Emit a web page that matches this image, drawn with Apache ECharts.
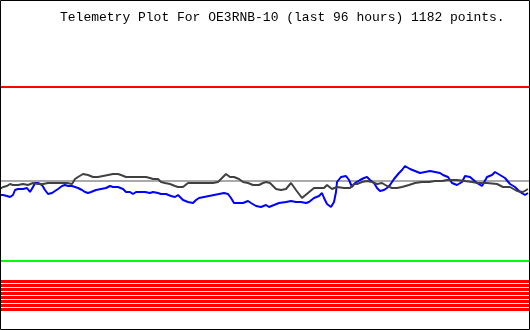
<!DOCTYPE html>
<html>
<head>
<meta charset="utf-8">
<script src="https://cdn.jsdelivr.net/npm/echarts@6/dist/echarts.min.js"></script>
<style>
html,body{margin:0;padding:0;background:#fff;}
#c{width:530px;height:330px;}
</style>
</head>
<body>
<div id="c"></div>
<script>
// Sample columns (time axis) and levels (level scale grows downward).
var titleText = "Telemetry Plot For OE3RNB-10 (last 96 hours) 1182 points.";

var darkT = [0,3,7,10,13,18,23,28,33,38,43,48,53,58,62,67,72,75,78,83,88,93,98,103,108,113,118,121,126,131,136,141,146,150,153,158,161,165,170,175,178,183,188,194,198,203,208,213,218,223,226,230,234,239,243,248,253,259,263,266,270,276,281,286,291,296,302,308,314,319,324,327,332,337,344,350,354,357,362,367,372,377,382,387,392,397,402,409,415,422,429,435,442,447,457,465,472,478,487,497,503,510,517,523,528];
var darkV = [189,187,186,184,185,185,184,185,183,184,184,183,183,183,183,183,184,179,177,174,175,177,177,176,175,174,174,175,177,177,177,177,177,178,179,179,182,183,184,186,187,187,183,183,183,183,183,183,182,177,174,177,177,179,182,183,185,185,183,182,183,189,190,189,183,190,198,193,188,188,188,185,189,187,188,188,184,184,182,181,182,184,183,186,188,188,187,185,183,182,182,181,181,180,180,181,182,183,183,184,187,187,191,192,189];

var blueT = [0,3,7,10,13,15,18,23,27,30,33,35,38,42,45,48,52,55,58,62,65,68,72,75,78,82,85,88,91,96,101,106,110,113,118,120,123,126,130,133,136,141,145,150,153,158,161,166,171,175,178,183,188,193,196,199,204,209,214,219,224,228,231,234,243,248,251,256,261,266,269,274,279,286,291,296,301,306,309,314,319,322,324,327,331,334,336,337,341,346,349,352,355,360,364,367,370,374,377,380,384,387,390,394,399,402,405,410,415,420,425,430,435,440,443,448,452,457,462,465,470,477,482,487,492,495,500,505,510,515,520,525,528];
var blueV = [195,195,196,197,195,190,189,189,188,192,187,183,183,185,190,194,193,191,189,186,185,186,186,187,188,190,192,193,192,190,189,188,186,187,187,185,189,192,192,194,192,192,192,193,192,193,194,194,196,197,195,200,202,203,200,198,197,196,195,194,193,194,198,203,203,201,203,206,207,205,207,205,203,202,201,202,202,203,202,198,196,193,198,204,207,202,192,182,177,176,180,187,183,180,178,177,180,183,188,191,190,188,185,179,173,170,166,169,171,173,172,171,172,173,175,177,183,185,182,176,177,183,186,177,175,172,175,178,184,187,192,195,193];

var redT = [0,9,10,31,32,43,44,50,51,57,58,62,63,72,73,81,82,106,107,530];
var redV = [87,88,87,88,87,88,87,88,87,88,87,88,87,88,87,88,87,88,87,87];

var refT = [0,530];
var grayLevel = 181;
var greenLevel = 261;
var stripeLevels = [281.5,285.5,289.5,293.5,297.5,301.5,305.5,309.5];

function pairs(t, v){ return t.map(function(x,i){ return [x, v[i]]; }); }
function flat(level){ return refT.map(function(x){ return [x, level]; }); }

var series = [];
stripeLevels.forEach(function(l){
  series.push({type:'line', data:flat(l), symbol:'none', lineStyle:{color:'#ff0000', width:3}, silent:true});
});
series.push({type:'line', data:flat(greenLevel), symbol:'none', lineStyle:{color:'#00ff00', width:2}});
series.push({type:'line', data:pairs(redT, redV), symbol:'none', step:'end', lineStyle:{color:'#ff0000', width:2}});
series.push({type:'line', data:flat(grayLevel), symbol:'none', lineStyle:{color:'#aaaaaa', width:2}});
series.push({type:'line', data:pairs(blueT, blueV), symbol:'none', lineStyle:{color:'#0000ff', width:2}});
series.push({type:'line', data:pairs(darkT, darkV), symbol:'none', lineStyle:{color:'#404040', width:2}});

var chart = echarts.init(document.getElementById('c'), null, {renderer:'canvas'});
chart.setOption({
  animation:false,
  backgroundColor:'#ffffff',
  grid:{left:0,right:0,top:0,bottom:0},
  xAxis:{type:'value', min:0, max:530, show:false},
  yAxis:{type:'value', min:0, max:330, inverse:true, show:false},
  series: series,
  graphic:[
    {type:'rect', shape:{x:0.5,y:0.5,width:529,height:329}, style:{fill:null, stroke:'#000', lineWidth:1}, z:100},
    {type:'text', x:60, y:18, style:{text:titleText, fill:'#000', font:'13px "Liberation Mono", "DejaVu Sans Mono", monospace', verticalAlign:'middle', align:'left'}, z:100}
  ]
});
</script>
</body>
</html>
